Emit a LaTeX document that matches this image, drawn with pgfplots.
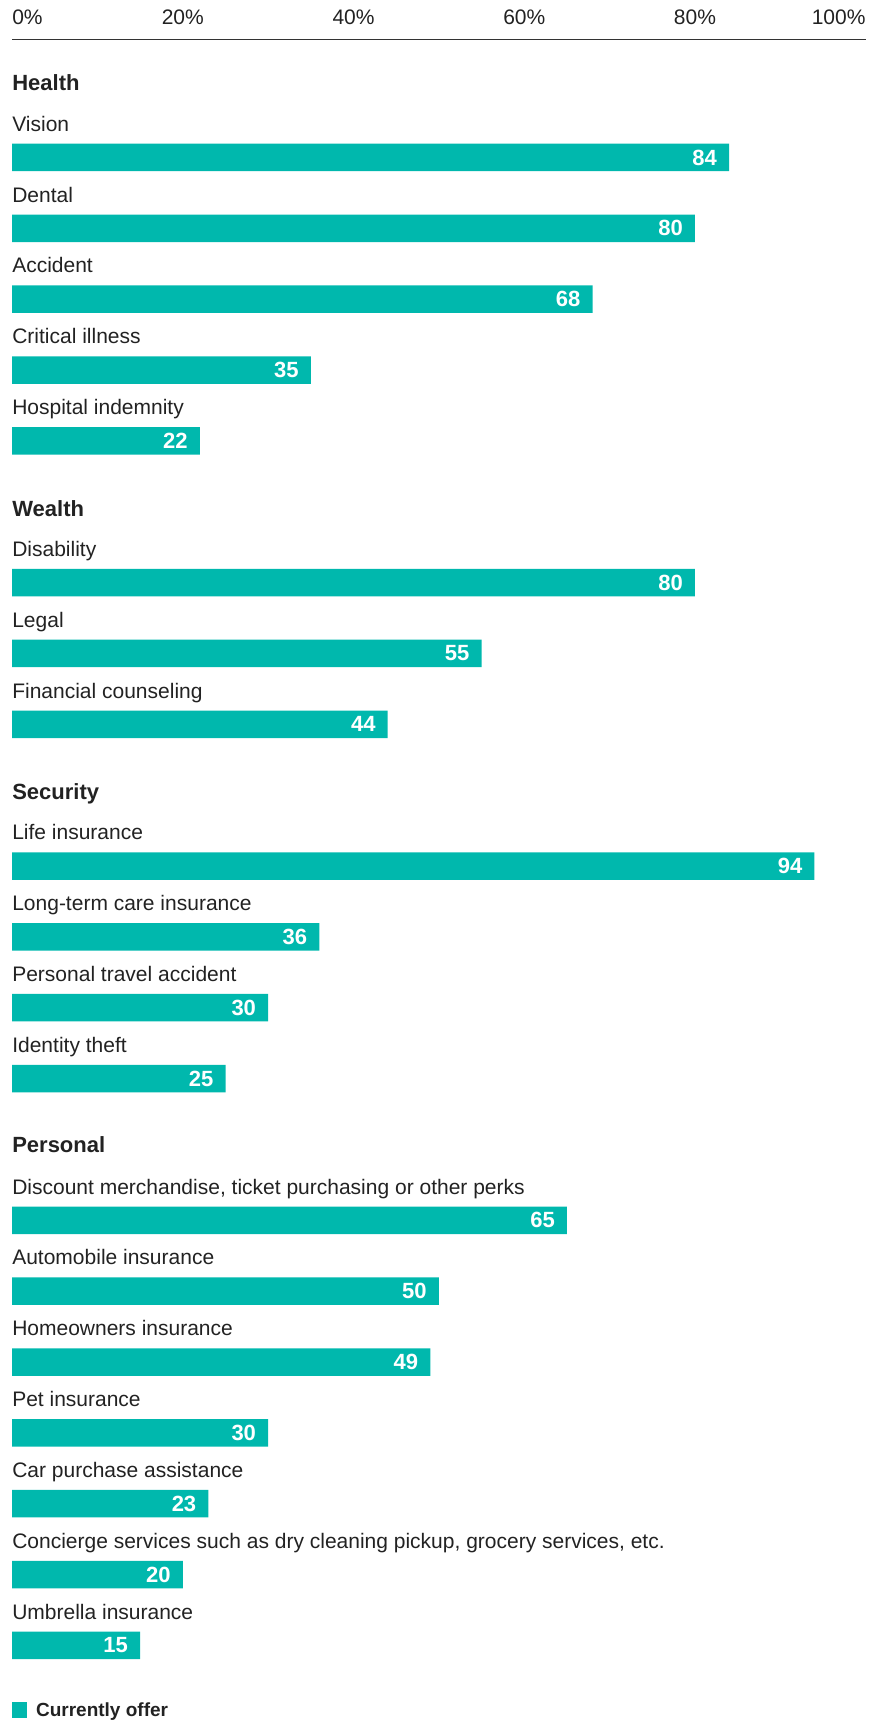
\documentclass[border=0pt]{standalone}
\usepackage{fontspec}
\setmainfont{Liberation Sans}
\usepackage{pgfplots}
\pgfplotsset{compat=1.18}
\definecolor{barteal}{HTML}{00B8AD}
\definecolor{txt}{HTML}{222222}
\definecolor{axisgray}{HTML}{333333}
\newcommand{\lbl}{\fontsize{21}{25}\selectfont}
\newcommand{\hdr}{\fontsize{22}{26}\selectfont\bfseries}
\newcommand{\leg}{\fontsize{19}{23}\selectfont\bfseries}
\begin{document}
\begin{tikzpicture}[font=\lbl, text=txt]
\begin{axis}[
  scale only axis,
  width=853.6pt, height=1652pt,
  xmin=0, xmax=100, ymin=-21.65, ymax=1.665,
  axis x line*=top, axis y line=none,
  x axis line style={-, draw=axisgray, line width=1.2pt},
  xtick={20,40,60,80}, xticklabels={20\%,40\%,60\%,80\%},
  major tick length=0pt,
  xticklabel style={anchor=base, yshift=14.5pt, inner sep=0pt, font=\lbl, text=txt},
  xbar, bar width=27.5pt,
  nodes near coords={\pgfmathprintnumber[assume math mode=true]{\pgfplotspointmeta}},
  every node near coord/.append style={anchor=east, text=white, font=\hdr, xshift=-12pt, inner sep=0pt},
  legend style={draw=none, fill=none, inner sep=0pt, outer sep=0pt,
    at={(axis cs:0,-21.91)}, anchor=west, font=\leg, text=txt,
    nodes={inner sep=0pt}, column sep=9pt},
  legend cell align=left,
  clip=false,
]
\addplot[fill=barteal, draw=none,
  legend image code/.code={\fill[barteal] (0pt,-8pt) rectangle (15pt,8pt);}] table {
x y
84 0
80 -1
68 -2
35 -3
22 -4
80 -6
55 -7
44 -8
94 -10
36 -11
30 -12
25 -13
65 -15
50 -16
49 -17
30 -18
23 -19
20 -20
15 -21
};
\addlegendentry{Currently offer}
\coordinate (tl) at (rel axis cs:0,1);
% top end tick labels
\node[anchor=base west, inner sep=0pt] at ([yshift=14.5pt]rel axis cs:0,1) {0\%};
\node[anchor=base east, inner sep=0pt] at ([yshift=14.5pt]rel axis cs:1,1) {100\%};
% group headers
\node[anchor=base west, inner sep=0pt, font=\hdr] at (axis cs:0,0.943) {Health};
\node[anchor=base west, inner sep=0pt, font=\hdr] at (axis cs:0,-5.07) {Wealth};
\node[anchor=base west, inner sep=0pt, font=\hdr] at (axis cs:0,-9.06) {Security};
\node[anchor=base west, inner sep=0pt, font=\hdr] at (axis cs:0,-14.05) {Personal};
% category labels
\node[anchor=base west, inner sep=0pt] at (axis cs:0,0.37) {Vision};
\node[anchor=base west, inner sep=0pt] at (axis cs:0,-0.63) {Dental};
\node[anchor=base west, inner sep=0pt] at (axis cs:0,-1.63) {Accident};
\node[anchor=base west, inner sep=0pt] at (axis cs:0,-2.63) {Critical illness};
\node[anchor=base west, inner sep=0pt] at (axis cs:0,-3.63) {Hospital indemnity};
\node[anchor=base west, inner sep=0pt] at (axis cs:0,-5.63) {Disability};
\node[anchor=base west, inner sep=0pt] at (axis cs:0,-6.63) {Legal};
\node[anchor=base west, inner sep=0pt] at (axis cs:0,-7.63) {Financial counseling};
\node[anchor=base west, inner sep=0pt] at (axis cs:0,-9.63) {Life insurance};
\node[anchor=base west, inner sep=0pt] at (axis cs:0,-10.63) {Long-term care insurance};
\node[anchor=base west, inner sep=0pt] at (axis cs:0,-11.63) {Personal travel accident};
\node[anchor=base west, inner sep=0pt] at (axis cs:0,-12.63) {Identity theft};
\node[anchor=base west, inner sep=0pt] at (axis cs:0,-14.63) {Discount merchandise, ticket purchasing or other perks};
\node[anchor=base west, inner sep=0pt] at (axis cs:0,-15.63) {Automobile insurance};
\node[anchor=base west, inner sep=0pt] at (axis cs:0,-16.63) {Homeowners insurance};
\node[anchor=base west, inner sep=0pt] at (axis cs:0,-17.63) {Pet insurance};
\node[anchor=base west, inner sep=0pt] at (axis cs:0,-18.63) {Car purchase assistance};
\node[anchor=base west, inner sep=0pt] at (axis cs:0,-19.63) {Concierge services such as dry cleaning pickup, grocery services, etc.};
\node[anchor=base west, inner sep=0pt] at (axis cs:0,-20.63) {Umbrella insurance};
\end{axis}
\pgfresetboundingbox
\useasboundingbox ([xshift=-12.1pt,yshift=39.5pt]tl) rectangle ++(880pt,-1723pt);
\end{tikzpicture}
\end{document}
